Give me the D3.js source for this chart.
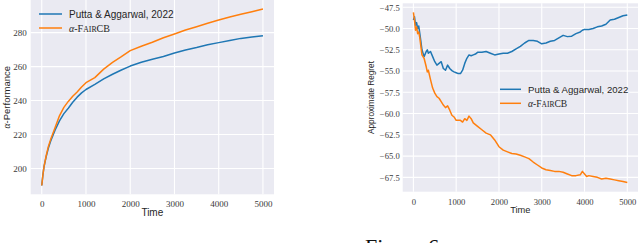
<!DOCTYPE html>
<html><head><meta charset="utf-8">
<script src="https://cdn.jsdelivr.net/npm/d3@7"></script>
<style>body{margin:0;background:#fff;overflow:hidden}svg{display:block}</style>
</head><body>
<svg id="chart" width="640" height="243"></svg>
<script>
// ---------- data ----------
const seriesNames = ["Putta & Aggarwal, 2022", "α-FairCB"];
const leftTimes = [0,25,50,100,150,200,300,400,500,600,700,800,900,1000,1200,1400,1600,1800,2000,2250,2500,2750,3000,3250,3500,3750,4000,4250,4500,4750,5000];
const leftBlue = [190,196,201,207,212,216,222.5,228,232.3,235.5,239,242,244.5,246.5,249.5,252.8,255.5,258,260.3,262.5,264.3,265.9,268,269.8,271.2,272.8,274.1,275.4,276.6,277.4,278.2];
const leftOrange = [190,196,201,207.5,213,217,224,231,236,239.5,242.5,245,248,250.5,253.5,258.5,262.5,265.8,269.4,272,274.3,277,279.2,281.5,283.5,285.5,287.4,289.2,290.8,292.3,293.9];
const leftYTicks = [200,220,240,260,280];
const xTicks = [0,1000,2000,3000,4000,5000];

const rightTimes = [0,25,50,75,100,125,150,175,200,250,300,325,350,400,450,500,550,600,650,700,750,800,850,900,950,1000,1050,1100,1150,1200,1250,1300,1350,1400,1450,1500,1600,1700,1800,1900,2000,2100,2200,2300,2400,2500,2600,2700,2800,2900,3000,3100,3200,3300,3400,3500,3600,3700,3800,3900,3950,4000,4050,4100,4200,4300,4400,4500,4600,4700,4800,4900,5000];
const rightBlue = [-49.0,-48.6,-49.6,-49.3,-50.0,-49.7,-50.6,-51.5,-52.5,-53.3,-52.7,-52.5,-52.9,-52.7,-53.3,-53.9,-54.3,-54.1,-53.9,-54.7,-54.9,-54.3,-54.7,-54.95,-55.1,-55.2,-55.3,-55.3,-54.9,-54.1,-53.5,-53.1,-53.2,-53.1,-53.0,-52.8,-52.8,-52.7,-52.9,-53.1,-53.0,-52.9,-52.9,-52.7,-52.4,-52.1,-51.7,-51.4,-51.4,-51.5,-51.8,-51.7,-51.5,-51.4,-51.1,-50.8,-50.95,-50.9,-50.6,-50.4,-50.2,-50.1,-50.1,-50.1,-50.0,-49.8,-49.7,-49.5,-49.0,-48.9,-48.7,-48.5,-48.4];
const rightOrange = [-48.1,-49.0,-50.2,-49.8,-50.6,-50.4,-51.1,-52.1,-53.1,-53.5,-54.5,-55.1,-54.9,-56.0,-57.0,-57.6,-58.0,-58.2,-58.6,-59.0,-59.3,-59.1,-59.6,-60.2,-60.4,-60.8,-60.8,-60.8,-61.0,-60.6,-60.8,-60.3,-60.6,-61.1,-61.3,-61.5,-61.9,-62.3,-62.5,-63.1,-63.9,-64.3,-64.5,-64.7,-64.75,-64.9,-65.1,-65.3,-65.7,-66.05,-66.4,-66.6,-66.7,-66.8,-66.8,-66.9,-67.1,-67.3,-67.3,-67.2,-66.8,-67.1,-67.4,-67.3,-67.4,-67.5,-67.7,-67.6,-67.7,-67.8,-67.9,-68.0,-68.1];
const rightYTicks = [-67.5,-65.0,-62.5,-60.0,-57.5,-55.0,-52.5,-50.0,-47.5];

const colors = ["#1f77b4", "#ff7f0e"];
// ---------- drawing ----------
const svg = d3.select("#chart");
const serif = "'Liberation Serif','DejaVu Serif',serif";
const sans = "'Liberation Sans','DejaVu Sans',sans-serif";
const fmtMinus = v => (v < 0 ? "\u2212" : "") + Math.abs(v).toFixed(1);

function panel(o) {
  const x = d3.scaleLinear().domain(o.xDomain).range([o.x0, o.x1]);
  const y = d3.scaleLinear().domain(o.yDomain).range([o.y1, o.y0]);
  const g = svg.append("g");
  g.append("rect").attr("x", o.x0).attr("y", o.y0).attr("width", o.x1 - o.x0).attr("height", o.y1 - o.y0).attr("fill", "#eaeaf2");
  g.selectAll(".gx").data(xTicks).enter().append("line")
    .attr("x1", d => x(d)).attr("x2", d => x(d)).attr("y1", o.y0).attr("y2", o.y1)
    .attr("stroke", "#fff").attr("stroke-width", 1.1);
  g.selectAll(".gy").data(o.yTicks).enter().append("line")
    .attr("y1", d => y(d)).attr("y2", d => y(d)).attr("x1", o.x0).attr("x2", o.x1)
    .attr("stroke", "#fff").attr("stroke-width", 1.1);
  const xa = g.append("g").attr("transform", `translate(0,${o.y1})`)
    .call(d3.axisBottom(x).tickValues(xTicks).tickSize(0).tickPadding(o.xPad).tickFormat(d3.format("d")));
  const ya = g.append("g").attr("transform", `translate(${o.x0},0)`)
    .call(d3.axisLeft(y).tickValues(o.yTicks).tickSize(0).tickPadding(o.yPad).tickFormat(o.yFmt));
  [xa, ya].forEach(a => {
    a.select(".domain").remove();
    a.selectAll("text").attr("font-family", serif).attr("font-size", o.tickSize).attr("fill", "#3a3a3a");
  });
  const line = d3.line().x(d => x(d[0])).y(d => y(d[1]));
  o.series.forEach((s, i) => {
    g.append("path").datum(o.times.map((t, k) => [t, s[k]]))
      .attr("d", line).attr("fill", "none").attr("stroke", colors[i])
      .attr("stroke-width", 1.5).attr("stroke-linejoin", "round");
  });
  g.append("text").attr("x", (o.x0 + o.x1) / 2).attr("y", o.timeY).attr("text-anchor", "middle")
    .attr("font-family", sans).attr("font-size", o.labSize).attr("fill", "#262626").text("Time");
  const yl = g.append("text").attr("transform", `translate(${o.ylabX},${(o.y0 + o.y1) / 2}) rotate(-90)`)
    .attr("text-anchor", "middle").attr("font-family", sans).attr("font-size", o.ylabSize).attr("fill", "#262626");
  o.ylab(yl);
  seriesNames.forEach((n, i) => {
    const ly = o.legY + i * o.legDy;
    g.append("line").attr("x1", o.legX).attr("x2", o.legX + o.legW).attr("y1", ly).attr("y2", ly)
      .attr("stroke", colors[i]).attr("stroke-width", 1.5);
    const t = g.append("text").attr("x", o.legX + o.legW + 7).attr("y", ly).attr("dy", "0.35em")
      .attr("font-size", o.legSize).attr("fill", "#262626");
    if (i === 0) t.attr("font-family", sans).text(n);
    else {
      t.attr("font-family", serif);
      t.append("tspan").attr("font-style", "italic").text("α");
      t.append("tspan").text("-F");
      t.append("tspan").attr("font-size", o.legSize * 0.78).text("AIR");
      t.append("tspan").text("CB");
    }
  });
}

panel({
  x0: 30.7, x1: 274, y0: 0, y1: 194.3,
  xDomain: [-250, 5250], yDomain: [184.8, 299.2], yTicks: leftYTicks,
  yFmt: d3.format("d"), times: leftTimes, series: [leftBlue, leftOrange],
  tickSize: 9, xPad: 6.5, yPad: 4, labSize: 10, timeY: 216, ylabX: 9.5, ylabSize: 9.5,
  ylab: t => { t.append("tspan").attr("font-family", serif).attr("font-style", "italic").text("α"); t.append("tspan").text("-Performance"); },
  legX: 39, legW: 23, legY: 14, legDy: 14, legSize: 10
});
panel({
  x0: 402.7, x1: 638, y0: 3.3, y1: 191.7,
  xDomain: [-250, 5250], yDomain: [-69.19, -47.03], yTicks: rightYTicks,
  yFmt: fmtMinus, times: rightTimes, series: [rightBlue, rightOrange],
  tickSize: 8.6, xPad: 7, yPad: 3, labSize: 9.3, timeY: 213, ylabX: 373.5, ylabSize: 8.2,
  ylab: t => t.text("Approximate Regret"),
  legX: 500, legW: 21, legY: 89.3, legDy: 14, legSize: 9.6
});

svg.append("text").attr("x", 365).attr("y", 254).attr("font-family", serif)
  .attr("font-size", 22).attr("fill", "#111").text("Figure 6");
</script>
</body></html>
